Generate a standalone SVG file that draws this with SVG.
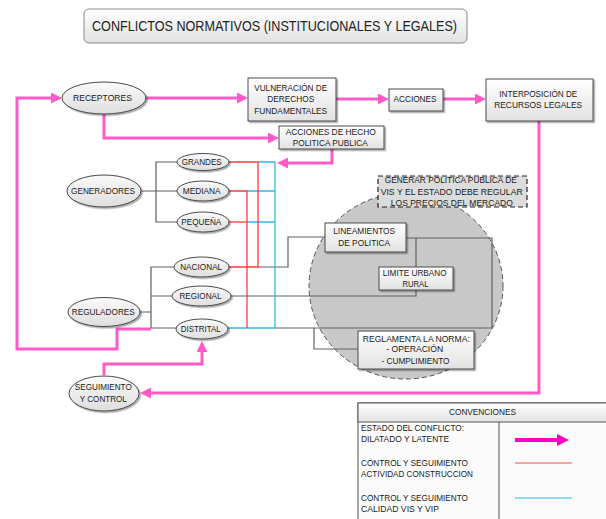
<svg xmlns="http://www.w3.org/2000/svg" width="606" height="519" viewBox="0 0 606 519">
<defs>
<linearGradient id="gBox" x1="0" y1="0" x2="0" y2="1">
<stop offset="0" stop-color="#ffffff"/>
<stop offset="1" stop-color="#e2e2e2"/>
</linearGradient>
<linearGradient id="gEll" x1="0" y1="0" x2="0" y2="1">
<stop offset="0" stop-color="#fafafa"/>
<stop offset="1" stop-color="#dedede"/>
</linearGradient>
<filter id="sh" x="-10%" y="-10%" width="130%" height="140%">
<feDropShadow dx="1.5" dy="1.5" stdDeviation="0.7" flood-color="#000" flood-opacity="0.35"/>
</filter>
<marker id="pa" viewBox="0 0 10 10" refX="0" refY="5" markerWidth="11" markerHeight="11" markerUnits="userSpaceOnUse" orient="auto">
<path d="M0,0 L10,5 L0,10 z" fill="#ff5ac8"/>
</marker>
<marker id="pa2" viewBox="0 0 10 10" refX="0" refY="5" markerWidth="15" markerHeight="12" markerUnits="userSpaceOnUse" orient="auto">
<path d="M0,0 L10,5 L0,10 z" fill="#ff00c8"/>
</marker>
</defs>
<style>
text{font-family:"Liberation Sans",Arial,sans-serif;font-size:9.5px;fill:#222;text-anchor:middle}
.lt{text-anchor:start}
.box{fill:url(#gBox);stroke:#4a4a4a;stroke-width:1;filter:url(#sh)}
.ell{fill:url(#gEll);stroke:#4a4a4a;stroke-width:1;filter:url(#sh)}
.pk{fill:none;stroke:#ff5ac8;stroke-width:3;stroke-linejoin:miter}
.gr{fill:none;stroke:#606060;stroke-width:1.2}
.rd{fill:none;stroke:#ff3c3c;stroke-width:1.3}
.bl{fill:none;stroke:#33b8ea;stroke-width:1.3}
</style>
<rect width="606" height="519" fill="#ffffff"/>

<g id="zone">
<ellipse cx="406" cy="286" rx="97" ry="93" fill="#c8c8c8" stroke="#555" stroke-width="1" stroke-dasharray="5,3"/>
</g>

<g id="connectors">
<path class="gr" d="M141,191 L156,191 M177,162 L156,162 L156,222 L177,222 M156,191 L177,191"/>
<path class="gr" d="M140,312 L151,312 M174,267 L151,267 L151,328 L176,328 M151,296 L172,296"/>
<path class="gr" d="M258,267 L288,267 L288,237 L325,237"/>
<path class="gr" d="M231,296 L416,296 L416,238"/>
<path class="gr" d="M275,328 L492,328 L492,238 L406,238"/>
<path class="gr" d="M314,328 L314,349 L358,349"/>
<path class="bl" d="M258,162 L275,162 L275,328 L228,328"/>
<path class="bl" d="M247,191 L275,191 M247,222 L275,222"/>
<path class="rd" d="M229,162 L258,162 L258,267 L229,267"/>
<path class="rd" d="M229,191 L247,191 L247,328"/>
<path class="rd" d="M229,222 L247,222"/>
<path class="pk" d="M151,329 L117,329 L117,349 L17,349 L17,98 L51,98" marker-end="url(#pa)"/>
<path class="pk" d="M146,98 L237,98" marker-end="url(#pa)"/>
<path class="pk" d="M336,99 L378,99" marker-end="url(#pa)"/>
<path class="pk" d="M443,99 L475,99" marker-end="url(#pa)"/>
<path class="pk" d="M104,114 L104,138 L268,138" marker-end="url(#pa)"/>
<path class="pk" d="M332,149 L332,163 L288,163" marker-end="url(#pa)"/>
<path class="pk" d="M539,121 L539,393 L151,393" marker-end="url(#pa)"/>
<path class="pk" d="M104,375 L104,364 L202,364 L202,352" marker-end="url(#pa)"/>
</g>

<g id="title">
<rect x="84" y="9" width="383" height="34" rx="5" fill="url(#gBox)" stroke="#888" stroke-width="1"/>
<text x="274.5" y="31" style="font-size:14px" textLength="365" lengthAdjust="spacingAndGlyphs">CONFLICTOS NORMATIVOS (INSTITUCIONALES Y LEGALES)</text>
</g>

<g id="receptores">
<ellipse class="ell" cx="104" cy="98" rx="42" ry="16"/>
<text x="102.5" y="100.5" textLength="59" lengthAdjust="spacingAndGlyphs">RECEPTORES</text>
</g>
<g id="vulneracion">
<rect class="box" x="248" y="78" width="88" height="43"/>
<text x="290.7" y="91" textLength="73" lengthAdjust="spacingAndGlyphs">VULNERACIÓN DE</text>
<text x="290.8" y="102" textLength="47" lengthAdjust="spacingAndGlyphs">DERECHOS</text>
<text x="290.7" y="113.5" textLength="73" lengthAdjust="spacingAndGlyphs">FUNDAMENTALES</text>
</g>
<g id="acciones">
<rect class="box" x="389" y="89" width="54" height="22"/>
<text x="415" y="102" textLength="43" lengthAdjust="spacingAndGlyphs">ACCIONES</text>
</g>
<g id="interposicion">
<rect class="box" x="486" y="79" width="107" height="42"/>
<text x="538.3" y="96.7" textLength="78" lengthAdjust="spacingAndGlyphs">INTERPOSICIÓN DE</text>
<text x="538.2" y="107.5" textLength="88" lengthAdjust="spacingAndGlyphs">RECURSOS LEGALES</text>
</g>
<g id="acciones-hecho">
<rect class="box" x="279" y="126" width="105" height="23"/>
<text x="330.7" y="135" textLength="90" lengthAdjust="spacingAndGlyphs">ACCIONES DE HECHO</text>
<text x="330.2" y="146" textLength="75" lengthAdjust="spacingAndGlyphs">POLITICA PUBLICA</text>
</g>
<g id="generadores">
<ellipse class="ell" cx="104" cy="191" rx="37" ry="16"/>
<text x="103" y="194.4" textLength="64" lengthAdjust="spacingAndGlyphs">GENERADORES</text>
</g>
<g id="grandes">
<ellipse class="ell" cx="203" cy="162" rx="26" ry="8.5"/>
<text x="201.7" y="165.4" textLength="40" lengthAdjust="spacingAndGlyphs">GRANDES</text>
</g>
<g id="mediana">
<ellipse class="ell" cx="203" cy="191" rx="26" ry="10"/>
<text x="201.7" y="194.4" textLength="38" lengthAdjust="spacingAndGlyphs">MEDIANA</text>
</g>
<g id="pequena">
<ellipse class="ell" cx="203" cy="222" rx="26" ry="10"/>
<text x="201.3" y="225.4" textLength="40" lengthAdjust="spacingAndGlyphs">PEQUEÑA</text>
</g>
<g id="generar">
<rect x="378" y="176" width="149" height="31" fill="#dcdcdc" stroke="#222" stroke-width="1.2" stroke-dasharray="5,3"/>
<text x="450.8" y="182.7" textLength="132" lengthAdjust="spacingAndGlyphs">GENERAR POLITICA PUBLICA DE</text>
<text x="451.7" y="195" textLength="142" lengthAdjust="spacingAndGlyphs">VIS Y EL ESTADO DEBE REGULAR</text>
<text x="451.8" y="206" textLength="122" lengthAdjust="spacingAndGlyphs">LOS PRECIOS DEL MERCADO</text>
</g>
<g id="lineamientos">
<rect class="box" x="325" y="223" width="81" height="29"/>
<text x="364.2" y="234.4" textLength="62" lengthAdjust="spacingAndGlyphs">LINEAMIENTOS</text>
<text x="364.2" y="246" textLength="52" lengthAdjust="spacingAndGlyphs">DE POLITICA</text>
</g>
<g id="limite">
<rect class="box" x="379" y="267" width="74" height="23"/>
<text x="414.7" y="275.7" textLength="64" lengthAdjust="spacingAndGlyphs">LIMITE URBANO</text>
<text x="415.5" y="286.7" textLength="26" lengthAdjust="spacingAndGlyphs">RURAL</text>
</g>
<g id="nacional">
<ellipse class="ell" cx="201.5" cy="267" rx="27.5" ry="10"/>
<text x="201.2" y="270.2" textLength="42" lengthAdjust="spacingAndGlyphs">NACIONAL</text>
</g>
<g id="regional">
<ellipse class="ell" cx="201.5" cy="296" rx="29.5" ry="10"/>
<text x="200.5" y="299.2" textLength="42" lengthAdjust="spacingAndGlyphs">REGIONAL</text>
</g>
<g id="reguladores">
<ellipse class="ell" cx="104" cy="312" rx="36" ry="14.5"/>
<text x="103.3" y="315.2" textLength="63" lengthAdjust="spacingAndGlyphs">REGULADORES</text>
</g>
<g id="distrital">
<ellipse class="ell" cx="202" cy="329" rx="26" ry="10"/>
<text x="200.7" y="332.4" textLength="40" lengthAdjust="spacingAndGlyphs">DISTRITAL</text>
</g>
<g id="reglamenta">
<rect class="box" x="358" y="331" width="116" height="38"/>
<text x="416.3" y="341.7" textLength="107" lengthAdjust="spacingAndGlyphs">REGLAMENTA LA NORMA:</text>
<text x="414.7" y="352.4" textLength="57" lengthAdjust="spacingAndGlyphs">- OPERACIÓN</text>
<text x="415.5" y="364" textLength="68" lengthAdjust="spacingAndGlyphs">- CUMPLIMIENTO</text>
</g>
<g id="seguimiento">
<ellipse class="ell" cx="104" cy="393.5" rx="35" ry="17.5"/>
<text x="103.3" y="390" textLength="57" lengthAdjust="spacingAndGlyphs">SEGUIMIENTO</text>
<text x="103.3" y="401.7" textLength="47" lengthAdjust="spacingAndGlyphs">Y CONTROL</text>
</g>

<g id="convenciones">
<rect x="358" y="403" width="250" height="125" fill="#fbfbfb" stroke="#555" stroke-width="1"/>
<rect x="358" y="403" width="250" height="19" fill="url(#gBox)" stroke="#555" stroke-width="1"/>
<line x1="499" y1="422" x2="499" y2="528" stroke="#555" stroke-width="1"/>
<text x="482.5" y="415" textLength="67" lengthAdjust="spacingAndGlyphs">CONVENCIONES</text>
<text class="lt" x="361" y="431.4" textLength="103" lengthAdjust="spacingAndGlyphs">ESTADO DEL CONFLICTO:</text>
<text class="lt" x="361" y="442.4" textLength="88" lengthAdjust="spacingAndGlyphs">DILATADO Y LATENTE</text>
<text class="lt" x="361" y="466.4" textLength="107" lengthAdjust="spacingAndGlyphs">CONTROL Y SEGUIMIENTO</text>
<text class="lt" x="361" y="477.4" textLength="112" lengthAdjust="spacingAndGlyphs">ACTIVIDAD CONSTRUCCION</text>
<text class="lt" x="361" y="501.4" textLength="107" lengthAdjust="spacingAndGlyphs">CONTROL Y SEGUIMIENTO</text>
<text class="lt" x="361" y="512.4" textLength="78" lengthAdjust="spacingAndGlyphs">CALIDAD VIS Y VIP</text>
<line x1="515" y1="440" x2="557" y2="440" stroke="#ff00c8" stroke-width="4" marker-end="url(#pa2)"/>
<line x1="515" y1="463" x2="572" y2="463" stroke="#ff4a4a" stroke-width="1.2"/>
<line x1="515" y1="498" x2="572" y2="498" stroke="#22bbf0" stroke-width="1.2"/>
</g>
</svg>
